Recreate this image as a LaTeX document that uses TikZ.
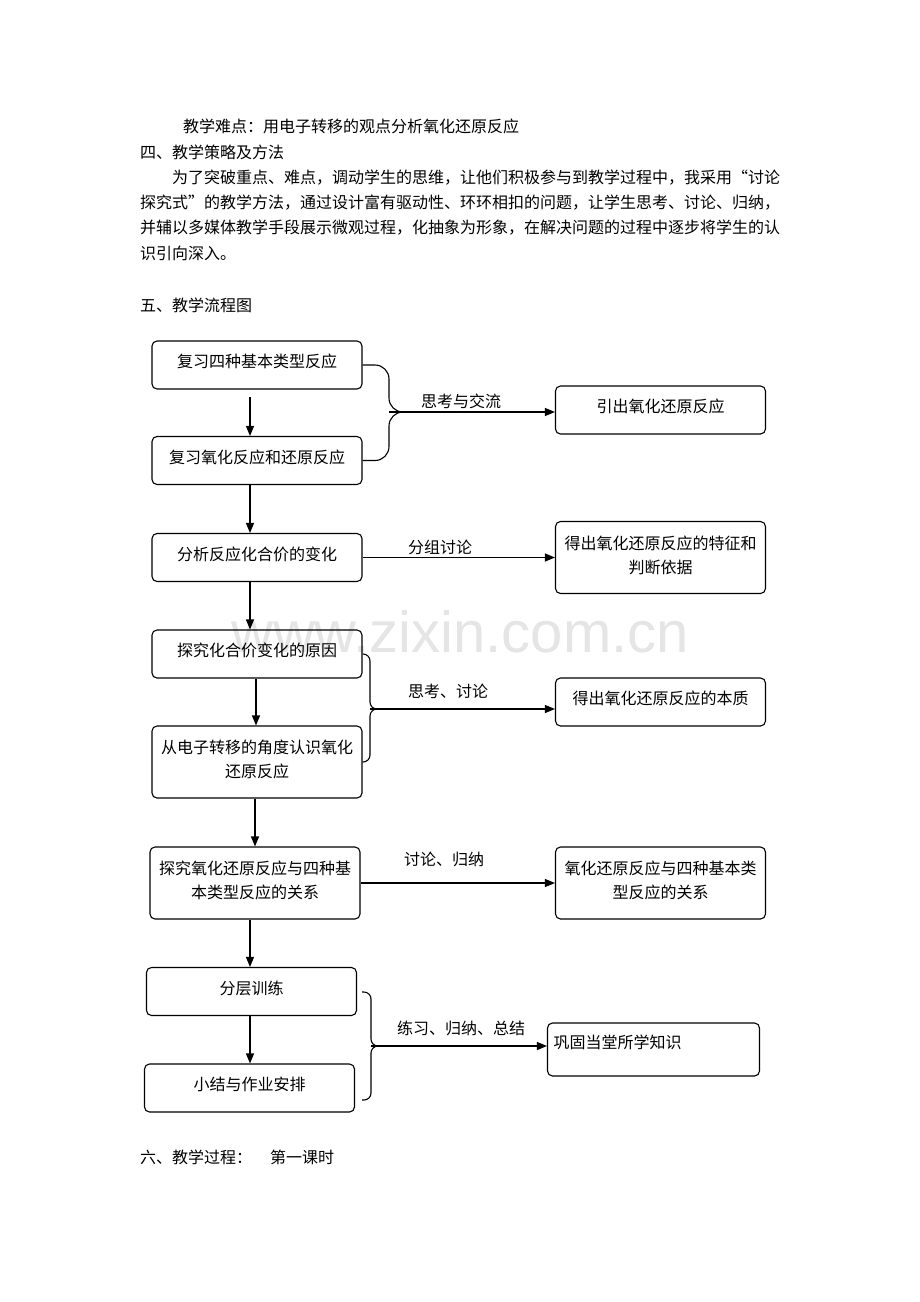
\documentclass[tikz,border=0pt]{standalone}
\usepackage{fontspec}
\setmainfont{Noto Sans CJK SC}
\newfontfamily\wmfont{Liberation Sans}
\usetikzlibrary{arrows.meta,calc}
\newcommand\fsz{\fontsize{16pt}{24pt}\selectfont}
\begin{document}
\begin{tikzpicture}[x=1pt,y=-1pt,
  every node/.style={inner sep=0pt},
  txt/.style={anchor=west,font=\fsz},
  lbl/.style={font=\fsz},
  box/.style={draw,line width=1.1pt,rounded corners=5pt,text width=200pt,inner xsep=5pt,
     align=center,minimum height=48pt,font=\fsz,text depth=8.5pt},
  tall/.style={box,minimum height=72pt,text depth=30pt},
  conn/.style={line width=1.1pt},
  arr/.style={conn,-{Triangle[length=10pt,width=8pt]}}]
\useasboundingbox (0,0) rectangle (920,1302);
\fill[white] (0,0) rectangle (920,1302);
% watermark
\node[anchor=base,font=\wmfont\fontsize{58pt}{60pt}\selectfont,text=black!10] (wm) at (460,652) {www.zixin.com.cn};
% header text
\node[txt] (t1) at (183,126) {教学难点：用电子转移的观点分析氧化还原反应};
\node[txt] (t2) at (140,152) {四、教学策略及方法};
\node[txt] (t3) at (172,178) {为了突破重点、难点，调动学生的思维，让他们积极参与到教学过程中，我采用“讨论};
\node[txt] (t4) at (140,203) {探究式”的教学方法，通过设计富有驱动性、环环相扣的问题，让学生思考、讨论、归纳，};
\node[txt] (t5) at (140,228) {并辅以多媒体教学手段展示微观过程，化抽象为形象，在解决问题的过程中逐步将学生的认};
\node[txt] (t6) at (140,253) {识引向深入。};
\node[txt] (t7) at (140,305) {五、教学流程图};
% left column
\node[box] (B1) at (257,365) {复习四种基本类型反应};
\node[box] (B2) at (257,460.5) {复习氧化反应和还原反应};
\node[box] (B3) at (257,557.5) {分析反应化合价的变化};
\node[box] (B4) at (257,654) {探究化合价变化的原因};
\node[tall] (B5) at (257,762) {从电子转移的角度认识氧化\\还原反应};
\node[tall] (B6) at (255,883) {探究氧化还原反应与四种基\\本类型反应的关系};
\node[box] (B7) at (251.5,991.5) {分层训练};
\node[box] (B8) at (249.5,1088) {小结与作业安排};
% right column
\node[box] (R1) at (660.5,410) {引出氧化还原反应};
\node[tall] (R2) at (660.5,557.5) {得出氧化还原反应的特征和\\判断依据};
\node[box] (R3) at (660.5,702) {得出氧化还原反应的本质};
\node[tall] (R4) at (660.5,883) {氧化还原反应与四种基本类\\型反应的关系};
\node[box,align=left,minimum height=53pt,inner xsep=6pt,text depth=15pt] (R5) at (653.5,1049.5) {巩固当堂所学知识};
% vertical arrows
\coordinate (s1) at (250,397);
\draw[arr] (s1) -- (s1 |- B2.north);
\coordinate (s2) at ($(B2.south)+(-7,0)$);
\draw[arr] (s2) -- (s2 |- B3.north);
\coordinate (s3) at ($(B3.south)+(-7,0)$);
\draw[arr] (s3) -- (s3 |- B4.north);
\coordinate (s4) at ($(B4.south)+(-1,0)$);
\draw[arr] (s4) -- (s4 |- B5.north);
\coordinate (s5) at ($(B5.south)+(-2,0)$);
\draw[arr] (s5) -- (s5 |- B6.north);
\coordinate (s6) at ($(B6.south)+(-5,0)$);
\draw[arr] (s6) -- (s6 |- B7.north);
\coordinate (s7) at ($(B7.south)+(-1.5,0)$);
\draw[arr] (s7) -- (s7 |- B8.north);
% group 1
\coordinate (j1) at (389,412);
\draw[conn,rounded corners=14pt] (B1.east) -| (j1) -- ++(22,0);
\draw[conn,rounded corners=14pt] (B2.east) -| (j1) -- ++(22,0);
\draw[arr] (j1) -- (j1 -| R1.west);
\node[lbl] (l1) at (461,401) {思考与交流};
% group 2
\draw[arr] (B3.east) -- (B3.east -| R2.west);
\node[lbl] (l2) at (440,547) {分组讨论};
% group 3
\coordinate (j3) at (370,709);
\draw[conn,rounded corners=7pt] (B4.east) -| (j3) -- ++(8,0);
\draw[conn,rounded corners=7pt] (B5.east) -| (j3) -- ++(8,0);
\draw[arr] (j3) -- (j3 -| R3.west);
\node[lbl] (l3) at (448,691) {思考、讨论};
% group 4
\draw[arr] (B6.east) -- (B6.east -| R4.west);
\node[lbl] (l4) at (444,859) {讨论、归纳};
% group 5
\coordinate (bt5) at (362,992);
\coordinate (bb5) at (362,1100);
\coordinate (j5) at (371,1046);
\draw[conn,rounded corners=7pt] (bt5) -| (j5) -- ++(8,0);
\draw[conn,rounded corners=7pt] (bb5) -| (j5) -- ++(8,0);
\draw[arr] (j5) -- (j5 -| R5.west);
\node[lbl] (l5) at (461,1028) {练习、归纳、总结};
% footer
\node[txt] (f1) at (140,1157) {六、教学过程：};
\node[txt] (f2) at (270,1157) {第一课时};
\end{tikzpicture}
\end{document}
